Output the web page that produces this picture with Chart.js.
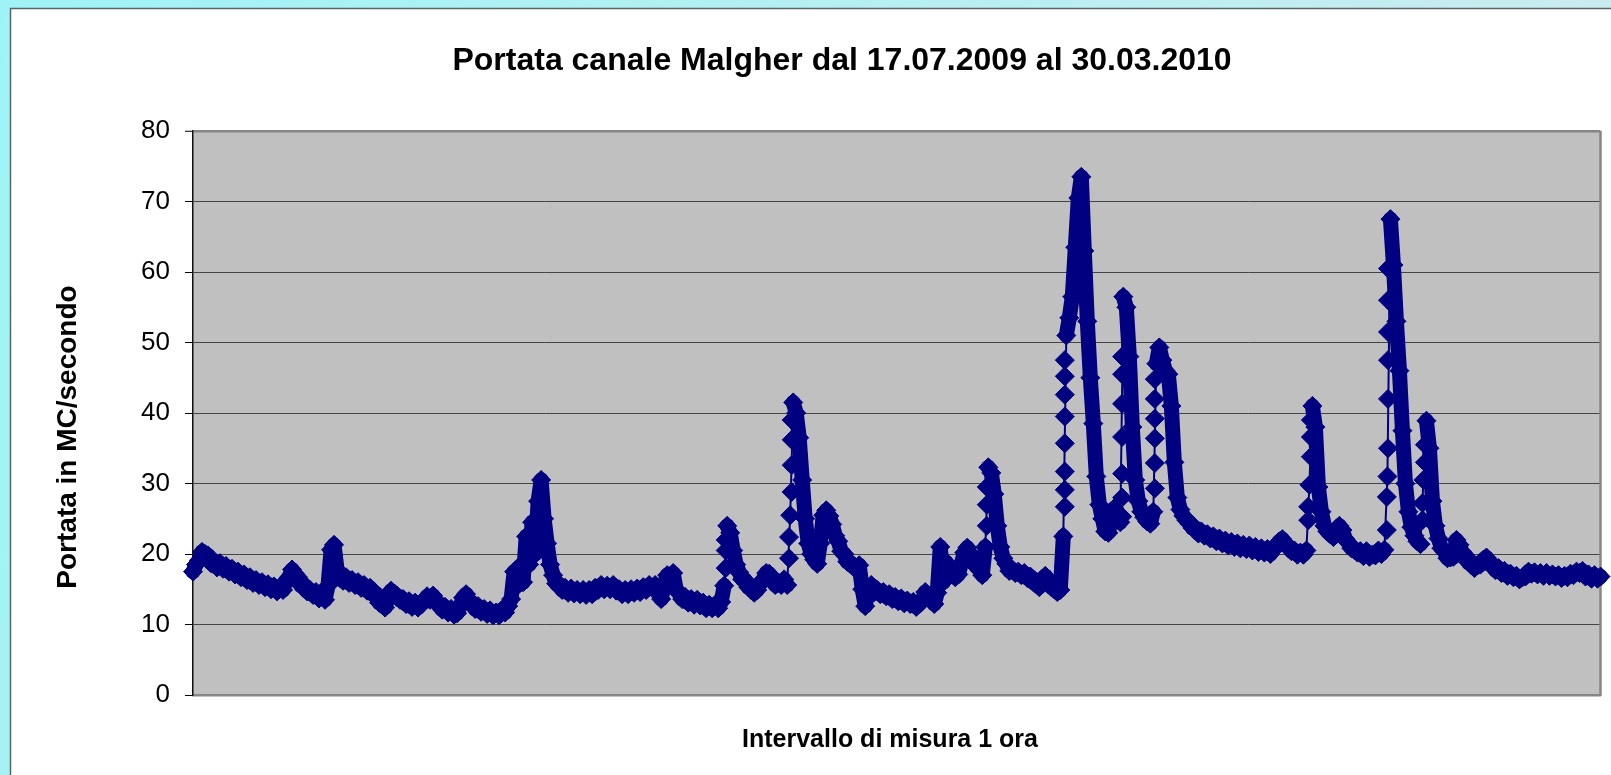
<!DOCTYPE html>
<html lang="it">
<head>
<meta charset="utf-8">
<title>Portata canale Malgher</title>
<script src="https://cdn.jsdelivr.net/npm/chart.js@4.4.1/dist/chart.umd.min.js"></script>
<style>
  html, body { margin: 0; padding: 0; background: #fff; }
  #wrap { width: 1611px; height: 775px; }
</style>
</head>
<body>
<div id="wrap"><canvas id="grafico" width="1611" height="775"></canvas></div>
<script>
// Portata (MC/s), circa un valore ogni 3 px di asse
const portata = [
  17.5, 18.5, 19.1, 20.3, 20.0, 19.8, 18.7, 19.0, 18.1, 18.7,
  17.9, 18.3, 17.5, 17.9, 17.1, 17.5, 16.7, 17.1, 16.3, 16.7,
  15.9, 16.3, 15.6, 16.0, 15.3, 15.7, 15.0, 15.4, 14.7, 15.1,
  14.9, 16.2, 16.7, 17.8, 17.1, 16.7, 15.5, 15.6, 14.7, 14.9,
  14.2, 14.6, 13.7, 14.0, 13.5, 15.5, 20.6, 21.3, 17.8, 16.6,
  16.2, 16.7, 15.9, 16.3, 15.6, 16.0, 15.2, 15.6, 14.8, 15.2,
  14.3, 14.4, 13.1, 12.9, 12.4, 13.8, 14.8, 14.3, 14.1, 13.5,
  13.6, 12.9, 13.3, 12.5, 13.1, 12.4, 13.1, 13.2, 14.0, 13.5,
  14.1, 13.1, 13.0, 12.1, 12.5, 11.7, 12.2, 11.4, 11.6, 12.6,
  13.8, 14.3, 13.2, 13.1, 12.2, 12.6, 11.8, 12.2, 11.5, 12.0,
  11.3, 11.7, 11.3, 12.1, 11.7, 12.6, 13.6, 17.5, 15.5, 18.3,
  16.0, 22.5, 18.5, 24.5, 20.0, 27.5, 30.5, 25.0, 21.5, 18.5,
  17.0, 15.8, 15.7, 14.9, 15.2, 14.5, 15.1, 14.4, 14.9, 14.3,
  14.9, 14.2, 14.9, 14.3, 15.2, 14.9, 15.6, 15.0, 15.5, 15.0,
  15.6, 14.8, 15.0, 14.3, 14.9, 14.3, 15.0, 14.5, 15.1, 14.6,
  15.3, 14.9, 15.6, 15.2, 15.6, 14.6, 13.6, 15.5, 17.0, 16.6,
  17.3, 15.0, 14.4, 13.6, 13.9, 13.1, 13.6, 12.8, 13.5, 12.7,
  13.1, 12.3, 12.8, 12.3, 12.8, 12.3, 13.2, 15.5, 24.0, 23.0,
  20.5, 18.5, 17.4, 16.4, 16.3, 15.3, 15.3, 14.5, 14.9, 15.8,
  16.4, 17.3, 17.2, 16.6, 15.6, 15.9, 15.6, 16.4, 15.6, 25.5,
  41.5, 40.0, 36.5, 30.5, 25.0, 21.5, 20.0, 19.2, 18.6, 21.5,
  25.5, 26.2, 25.4, 24.2, 22.6, 21.8, 20.4, 20.0, 18.9, 18.8,
  18.2, 17.9, 18.4, 15.0, 12.6, 14.8, 15.6, 14.6, 14.9, 14.3,
  14.6, 14.0, 14.3, 13.6, 13.9, 13.3, 13.7, 13.0, 13.4, 12.9,
  13.2, 12.5, 12.9, 13.4, 14.6, 13.9, 13.6, 12.9, 14.5, 21.0,
  16.0, 18.8, 17.7, 17.9, 16.7, 17.1, 18.6, 20.2, 20.9, 20.0,
  19.5, 18.2, 17.9, 17.0, 21.0, 32.3, 31.5, 28.5, 24.0, 21.0,
  19.4, 18.6, 17.6, 17.8, 17.3, 17.5, 17.0, 17.3, 16.6, 16.8,
  16.0, 16.1, 15.3, 16.4, 16.9, 16.2, 15.3, 15.5, 14.6, 14.9,
  22.5, 51.0, 53.5, 56.5, 63.5, 70.5, 73.5, 63.0, 53.0, 45.0,
  38.5, 31.0, 27.0, 25.0, 23.2, 23.0, 24.8, 26.5, 25.6, 24.5,
  56.5, 55.0, 48.0, 38.0, 30.5, 27.5, 26.0, 25.2, 24.6, 24.3,
  26.0, 47.0, 49.3, 47.5, 46.0, 45.5, 41.0, 33.0, 28.0, 26.3,
  25.4, 24.8, 24.5, 23.7, 23.7, 22.9, 23.2, 22.6, 22.8, 22.2,
  22.5, 21.8, 22.2, 21.5, 21.9, 21.2, 21.7, 21.0, 21.5, 20.8,
  21.3, 20.7, 21.2, 20.5, 21.0, 20.3, 20.8, 20.2, 20.7, 20.0,
  20.6, 21.2, 21.8, 22.1, 21.3, 21.1, 20.4, 20.5, 19.9, 20.2,
  19.9, 20.5, 29.8, 41.0, 38.0, 29.5, 26.0, 24.0, 23.2, 22.8,
  22.4, 23.5, 24.0, 23.4, 22.1, 21.6, 20.8, 20.7, 20.2, 20.4,
  19.7, 20.4, 19.6, 19.9, 19.8, 20.5, 20.0, 20.6, 31.0, 67.5,
  61.0, 53.0, 46.0, 37.5, 30.0, 26.0, 23.8, 22.6, 21.8, 21.4,
  30.5, 38.9, 35.0, 27.5, 24.0, 22.2, 20.8, 20.4, 19.4, 19.5,
  19.6, 22.0, 21.3, 20.1, 19.8, 18.8, 18.8, 18.0, 18.4, 18.5,
  19.2, 19.5, 18.6, 18.5, 17.7, 18.0, 17.3, 17.6, 16.9, 17.2,
  16.7, 16.9, 16.4, 16.7, 16.8, 17.5, 17.2, 17.4, 17.1, 17.3,
  16.9, 17.3, 16.9, 17.1, 16.8, 17.0, 16.6, 16.9, 16.7, 17.2,
  17.0, 17.5, 17.3, 17.6, 16.8, 17.1, 16.5, 17.0, 16.5, 16.8
];

// rombi isolati nelle salite rapide (posizione nella sequenza di misure, valore)
const saliteIndice = [
  177.5, 177.5, 177.5,
  198.6, 198.6, 199.5, 199.5, 199.5, 199.5,
  264.5, 264.5, 264.5,
  290.5, 290.5, 290.5, 290.5, 290.5, 290.5, 290.5, 290.5,
  309.6, 309.6, 309.6, 309.6, 309.6, 309.6, 309.6,
  320.5, 320.5, 320.5, 320.5, 320.5, 320.5,
  371.6, 371.6, 372.5, 372.5, 372.5,
  397.8, 397.8, 398.2, 398.2, 398.2, 398.2, 398.2, 398.2,
  409.7, 409.7, 410.5, 410.5
];
const saliteValori = [
  18.0, 20.5, 22.0,
  19.4, 22.4, 28.8, 32.6, 36.2, 39.0,
  24.0, 27.0, 29.5,
  26.7, 29.1, 31.7, 35.7, 39.5, 42.6, 45.2, 47.5,
  25.3, 28.0, 31.4, 36.6, 41.3, 45.5, 48.0,
  29.3, 32.9, 36.4, 39.2, 42.0, 44.8,
  24.8, 26.7, 33.8, 36.6, 39.0,
  23.4, 28.1, 35.0, 42.0, 47.5, 51.5, 56.0, 60.5,
  24.8, 27.2, 33.0, 35.5
];

const yMin = 0, yMax = 80, yPasso = 10;

const titolo = 'Portata canale Malgher dal 17.07.2009 al 30.03.2010';
const titoloX = 'Intervallo di misura 1 ora';
const titoloY = 'Portata in MC/secondo';

const FONT = '"Liberation Sans", Arial, sans-serif';
const BLU = '#000080';
const SALTO = 8;   // salti bruschi tra due misure: linea sottile

// cornice stile Excel: bordo azzurro, area bianca, area del tracciato grigia
const cornice = {
  id: 'cornice',
  beforeDraw(chart) {
    const { ctx, width, height, chartArea: a } = chart;
    ctx.save();
    const g = ctx.createLinearGradient(0, 0, width, height * 0.6);
    g.addColorStop(0, '#9ff3f6');
    g.addColorStop(1, '#cdebef');
    ctx.fillStyle = g;
    ctx.fillRect(0, 0, width, height);
    ctx.fillStyle = '#fff';
    ctx.fillRect(11, 9, width - 11, height - 9);
    ctx.strokeStyle = '#5b6464';
    ctx.lineWidth = 1.5;
    ctx.beginPath();
    ctx.moveTo(10.5, height);
    ctx.lineTo(10.5, 8.5);
    ctx.lineTo(width, 8.5);
    ctx.stroke();
    ctx.fillStyle = '#c0c0c0';
    ctx.fillRect(a.left, a.top, a.right - a.left, a.bottom - a.top);
    ctx.restore();
  },
  beforeDatasetsDraw(chart) {
    const { ctx, chartArea: a } = chart;
    ctx.save();
    ctx.strokeStyle = '#868686';
    ctx.lineWidth = 2.5;
    ctx.beginPath();
    ctx.moveTo(a.right, a.top);
    ctx.lineTo(a.right, a.bottom + 1);
    ctx.stroke();
    ctx.restore();
  },
  afterDraw(chart) {
    const { ctx } = chart;
    ctx.save();
    ctx.fillStyle = '#000';
    ctx.textAlign = 'center';
    ctx.textBaseline = 'middle';
    ctx.font = 'bold 32px ' + FONT;
    ctx.fillText(titolo, 842, 61);
    ctx.font = 'bold 25px ' + FONT;
    ctx.fillText(titoloX, 890, 740);
    ctx.font = 'bold 28px ' + FONT;
    ctx.translate(68, 437);
    ctx.rotate(-Math.PI / 2);
    ctx.fillText(titoloY, 0, 0);
    ctx.restore();
  }
};

const rombo = {
  pointStyle: 'rectRot',
  pointRadius: 9.5,
  pointBackgroundColor: BLU,
  pointBorderColor: BLU,
  pointBorderWidth: 1,
  clip: false
};

const ctx = document.getElementById('grafico').getContext('2d');
new Chart(ctx, {
  type: 'line',
  data: {
    datasets: [{
      data: portata.map((y, i) => ({ x: i, y })),
      borderColor: BLU,
      borderWidth: 15,
      borderJoinStyle: 'round',
      borderCapStyle: 'round',
      tension: 0,
      segment: {
        borderWidth: s => (portata[s.p1DataIndex] - portata[s.p0DataIndex] > SALTO ? 2 : 15)
      },
      ...rombo
    }, {
      data: saliteIndice.map((x, i) => ({ x, y: saliteValori[i] })),
      showLine: false,
      ...rombo
    }]
  },
  options: {
    responsive: false,
    animation: false,
    events: [],
    layout: { padding: { left: 0, top: 131, right: 9, bottom: 80 } },
    plugins: { legend: { display: false }, tooltip: { enabled: false }, title: { display: false } },
    scales: {
      x: {
        type: 'linear',
        min: 0,
        max: portata.length - 1,
        ticks: { display: false },
        grid: { display: false, drawTicks: false },
        border: { display: true, color: '#868686', width: 2.5 },
        afterFit: s => { s.height = 0; }
      },
      y: {
        min: yMin,
        max: yMax,
        ticks: {
          stepSize: yPasso,
          padding: 15,
          color: '#000',
          font: { family: FONT, size: 26 }
        },
        grid: {
          color: c => c.tick.value === yMin ? 'rgba(0,0,0,0)' : (c.tick.value === yMax ? '#868686' : '#444'),
          lineWidth: c => c.tick.value === yMax ? 2.5 : 1,
          tickLength: 8,
          tickColor: '#000',
          tickWidth: 1
        },
        border: { display: true, color: '#111', width: 1.5 },
        afterFit: s => { s.width = 193; }
      }
    }
  },
  plugins: [cornice]
});
</script>
</body>
</html>
